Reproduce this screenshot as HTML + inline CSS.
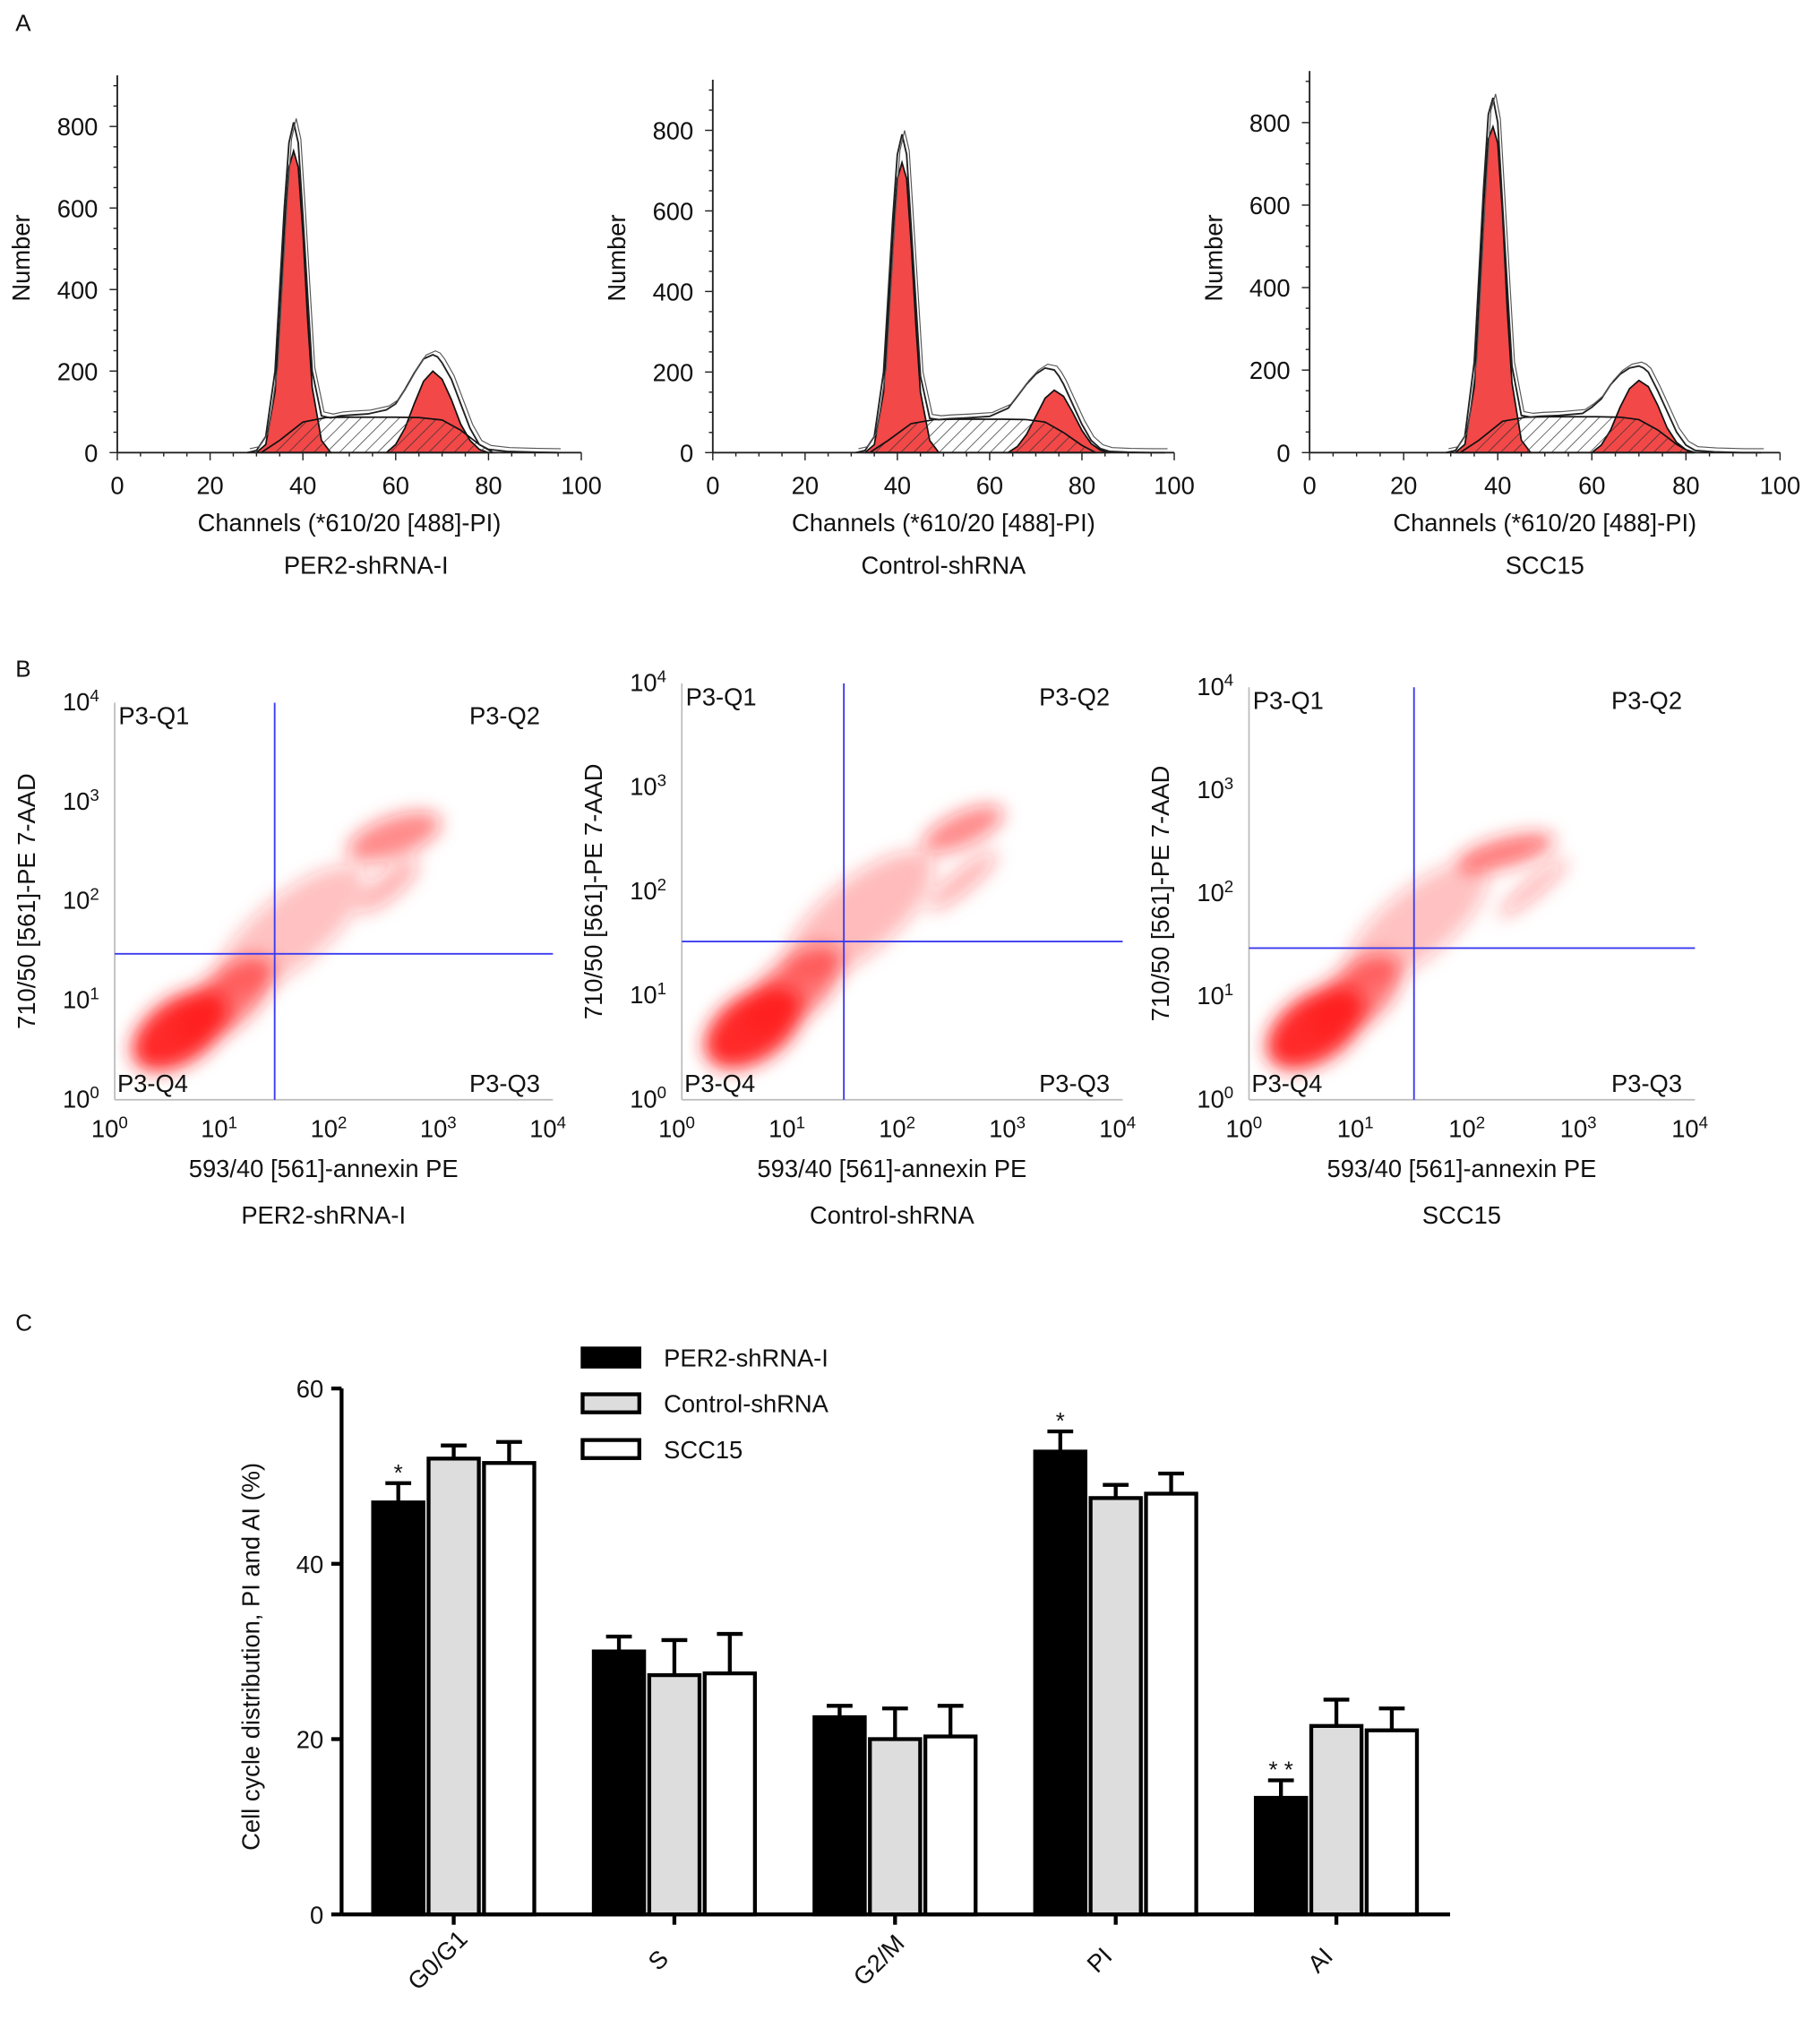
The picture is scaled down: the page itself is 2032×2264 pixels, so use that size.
<!DOCTYPE html>
<html><head><meta charset="utf-8"><style>
html,body{margin:0;padding:0;background:#fff}
svg{display:block;font-family:"Liberation Sans",Arial,sans-serif}
</style></head><body>
<svg id="fig" width="2032" height="2264" viewBox="0 0 1412 1573" xmlns="http://www.w3.org/2000/svg">
<defs>
<pattern id="hatch" patternUnits="userSpaceOnUse" width="7" height="7" patternTransform="rotate(45)">
<line x1="0" y1="0" x2="0" y2="7" stroke="#333" stroke-width="1"/>
</pattern>
<filter id="blur" x="-50%" y="-50%" width="200%" height="200%"><feGaussianBlur stdDeviation="7"/></filter>
</defs>
<g id="root"></g>
</svg>
<script>
// ---------- Panel A data ----------
const histNames = ["PER2-shRNA-I","Control-shRNA","SCC15"];
const g1Ch = [[30,32,34,35,36,37,38,39,40,41,42,44,46],[33,35,37,38,39,40,41,42,43,44,45,47,49],[31,33,35,36,37,38,39,40,41,42,43,45,47]];
const g1Val = [[0,20,150,330,550,700,740,700,540,330,160,30,0],[0,20,150,330,540,680,720,680,520,320,150,30,0],[0,20,160,360,600,760,790,750,580,350,170,30,0]];
const sCh = [[31,35,40,45,50,55,60,65,70,74,78,81],[34,38,43,48,53,58,63,68,72,76,80,83],[32,36,41,46,51,56,61,66,70,74,78,81]];
const sVal = [[0,30,75,86,87,87,87,86,80,55,20,0],[0,30,72,82,83,83,83,82,76,50,18,0],[0,30,76,86,87,87,87,86,80,55,20,0]];
const g2Ch = [[58,60,62,64,66,68,70,72,74,76,78,80],[64,66,68,70,72,74,76,78,80,82,84,86],[60,62,64,66,68,70,72,74,76,78,80,82]];
const g2Val = [[0,20,60,120,175,200,180,130,70,30,8,0],[0,15,45,90,135,155,140,100,55,22,6,0],[0,18,55,110,155,175,160,115,60,25,7,0]];
const totCh = [[28,30,32,34,36,37,38,39,40,42,44,46,48,50,54,58,60,62,64,66,68,69,70,72,74,76,78,80,84,90,95],
 [31,33,35,37,39,40,41,42,43,45,47,49,51,55,60,64,66,68,70,72,74,75,76,78,80,82,84,86,90,95,98],
 [29,31,33,35,37,38,39,40,41,43,45,47,49,53,58,60,62,64,66,68,70,71,72,74,76,78,80,82,86,92,96]];
const totVal = [[0,5,40,200,600,760,810,760,580,200,90,85,90,92,95,105,120,155,195,230,240,235,220,180,120,60,20,8,3,1,0],
 [0,5,40,200,580,740,790,740,560,190,85,82,84,86,90,110,140,170,195,210,205,190,170,120,70,30,10,3,1,0,0],
 [0,5,40,220,640,820,860,800,600,210,90,86,88,90,95,110,130,165,190,205,210,205,195,150,100,50,18,5,2,0,0]];
const histX0 = [91,553,1016], histX1 = [451,911,1381], histY800 = [98,101,95], histYBase = 351;
const xTicksA = [0,20,40,60,80,100], yTicksA = [0,200,400,600,800];

// ---------- Panel B data ----------
const scatNames = ["PER2-shRNA-I","Control-shRNA","SCC15"];
const scatX0 = [89,529,969], scatX1 = [429,871,1315], scatY0 = [853,853,853], scatY1 = [545,530,533];
const gateX = [1.46,1.47,1.48], gateY = [1.47,1.52,1.47];
const clCx = [[0.6,1.0,1.6,2.55,2.5],[0.65,1.0,1.6,2.55,2.55],[0.6,0.95,1.5,2.3,2.55]];
const clCy = [[0.7,1.0,1.7,2.65,2.15],[0.7,1.05,1.75,2.6,2.1],[0.7,1.0,1.7,2.4,2.05]];
const clRx = [[0.5,0.55,0.85,0.45,0.35],[0.5,0.55,0.85,0.4,0.4],[0.5,0.5,0.8,0.45,0.4]];
const clRy = [[0.32,0.28,0.35,0.2,0.12],[0.32,0.28,0.35,0.16,0.1],[0.32,0.28,0.33,0.14,0.08]];
const clAng = [[35,40,40,20,40],[35,40,40,25,40],[35,40,40,15,40]];
const clOp = [[0.95,0.6,0.28,0.5,0.35],[0.95,0.6,0.3,0.5,0.35],[0.95,0.6,0.28,0.6,0.35]];

// ---------- Panel C data ----------
const cats = ["G0/G1","S","G2/M","PI","AI"];
const seriesNames = ["PER2-shRNA-I","Control-shRNA","SCC15"];
const perVals = [47,30,22.5,52.8,13.3];
const ctlVals = [52,27.3,20,47.5,21.5];
const sccVals = [51.5,27.5,20.3,48,21];
const perErr = [2.2,1.7,1.3,2.3,2];
const ctlErr = [1.5,4,3.5,1.5,3];
const sccErr = [2.4,4.5,3.5,2.3,2.5];
const yTicksC = [0,20,40,60];
const stars = ["*","","","*","* *"];

const NS="http://www.w3.org/2000/svg";
const root=document.getElementById('root');
function mk(tag,attrs,parent,name,inter){const e=document.createElementNS(NS,tag);for(const k in attrs)e.setAttribute(k,attrs[k]);(parent||root).appendChild(e);


return e;}
function txt(s,x,y,size,anchor,parent,name,extra){const t=mk('text',Object.assign({x:x,y:y,'font-size':size,'text-anchor':anchor||'start',fill:'#111'},extra||{}),parent,name);t.textContent=s;return t;}
const FS=19;

txt("A",12,24,18,'start',root,'panel-label-a');
txt("B",12,525,18,'start',root,'panel-label-b');
txt("C",12,1032,18,'start',root,'panel-label-c');

// ---------- Panel A ----------
for(let p=0;p<3;p++){
  const g=mk('g',{},root,'histogram-'+(p+1));
  const X=c=>histX0[p]+(histX1[p]-histX0[p])*c/100;
  const Y=v=>histYBase-(histYBase-histY800[p])*v/800;
  const path=(ch,val)=>'M'+ch.map((c,i)=>X(c).toFixed(1)+','+Y(val[i]).toFixed(1)).join('L');
  mk('path',{d:path(g1Ch[p],g1Val[p])+'Z',fill:'#f24848',stroke:'#111','stroke-width':1.2},g,'g1-peak');
  mk('path',{d:path(g2Ch[p],g2Val[p])+'Z',fill:'#f24848',stroke:'#111','stroke-width':1.2},g,'g2m-peak');
  mk('path',{d:path(sCh[p],sVal[p])+'Z',fill:'url(#hatch)',stroke:'#111','stroke-width':1.2},g,'s-phase-area');
  mk('path',{d:path(totCh[p],totVal[p]),fill:'none',stroke:'#222','stroke-width':1.3},g,'total-fit-line');
  mk('path',{d:path(totCh[p],totVal[p]),fill:'none',stroke:'#555','stroke-width':0.8,transform:'translate(2,-3)'},g,'raw-data-line');
  const top=Y(900)-8;
  mk('line',{x1:histX0[p],y1:histYBase,x2:histX1[p],y2:histYBase,stroke:'#222','stroke-width':1.3},g,'x-axis');
  mk('line',{x1:histX0[p],y1:histYBase,x2:histX0[p],y2:top,stroke:'#222','stroke-width':1.3},g,'y-axis');
  for(let v=0;v<=950;v+=50){const y=Y(v);if(y<top)break;const maj=v%200==0;mk('line',{x1:histX0[p]-(maj?6:3),y1:y,x2:histX0[p],y2:y,stroke:'#222'},g,'y-tick');}
  for(let c=0;c<=100;c+=5){const maj=c%20==0;mk('line',{x1:X(c),y1:histYBase,x2:X(c),y2:histYBase+(maj?6:3),stroke:'#222'},g,'x-tick');}
  yTicksA.forEach(v=>txt(String(v),histX0[p]-15,Y(v)+7,FS,'end',g,'y-tick-label'));
  xTicksA.forEach(c=>txt(String(c),X(c),383,FS,'middle',g,'x-tick-label'));
  const cx=(histX0[p]+histX1[p])/2;
  txt("Channels (*610/20 [488]-PI)",cx,412,FS,'middle',g,'x-axis-title');
  txt(histNames[p],cx-(p==0?-13:0),445,FS,'middle',g,'sample-name');
  txt("Number",histX0[p]-68,200,FS,'middle',g,'y-axis-title',{transform:`rotate(-90 ${histX0[p]-68} 200)`});
}

// ---------- Panel B ----------
for(let p=0;p<3;p++){
  const g=mk('g',{},root,'scatter-plot-'+(p+1));
  const X=l=>scatX0[p]+(scatX1[p]-scatX0[p])*l/4;
  const Y=l=>scatY0[p]-(scatY0[p]-scatY1[p])*l/4;
  const cg=mk('g',{filter:'url(#blur)'},g,'event-clusters');
  for(let k=0;k<clCx[p].length;k++){
    const x=X(clCx[p][k]),y=Y(clCy[p][k]);
    mk('ellipse',{cx:x,cy:y,rx:(scatX1[p]-scatX0[p])/4*clRx[p][k],ry:(scatY0[p]-scatY1[p])/4*clRy[p][k],fill:'#ff1a1a','fill-opacity':clOp[p][k],transform:`rotate(${-clAng[p][k]} ${x} ${y})`},cg,'event-cluster');
  }
  mk('line',{x1:scatX0[p],y1:scatY0[p],x2:scatX1[p],y2:scatY0[p],stroke:'#bbb','stroke-width':1.2},g,'x-axis');
  mk('line',{x1:scatX0[p],y1:scatY0[p],x2:scatX0[p],y2:scatY1[p],stroke:'#bbb','stroke-width':1.2},g,'y-axis');
  mk('line',{x1:X(gateX[p]),y1:scatY1[p],x2:X(gateX[p]),y2:scatY0[p],stroke:'#3b3bf0','stroke-width':1.3},g,'gate-vertical');
  mk('line',{x1:scatX0[p],y1:Y(gateY[p]),x2:scatX1[p],y2:Y(gateY[p]),stroke:'#3b3bf0','stroke-width':1.3},g,'gate-horizontal');
  for(let d=0;d<=4;d++){
    const t=txt("10",X(d)-4,scatY0[p]+29,FS,'middle',g,'x-tick-label');const s=document.createElementNS(NS,'tspan');s.setAttribute('dy','-7');s.setAttribute('font-size','13');s.textContent=String(d);t.appendChild(s);
    const t2=txt("10",scatX0[p]-12,Y(d)+6,FS,'end',g,'y-tick-label');const s2=document.createElementNS(NS,'tspan');s2.setAttribute('dy','-7');s2.setAttribute('font-size','13');s2.textContent=String(d);t2.appendChild(s2);
  }
  txt("P3-Q1",scatX0[p]+3,Y(3.85)+5,FS,'start',g,'quadrant-label-q1');
  txt("P3-Q2",scatX1[p]-10,Y(3.85)+5,FS,'end',g,'quadrant-label-q2');
  txt("P3-Q4",scatX0[p]+2,scatY0[p]-6,FS,'start',g,'quadrant-label-q4');
  txt("P3-Q3",scatX1[p]-10,scatY0[p]-6,FS,'end',g,'quadrant-label-q3');
  const cx=(scatX0[p]+scatX1[p])/2-8;
  txt("593/40 [561]-annexin PE",cx,scatY0[p]+60,FS,'middle',g,'x-axis-title');
  txt(scatNames[p],cx,scatY0[p]+96,FS,'middle',g,'sample-name');
  const yx=scatX0[p]-62,yy=(scatY0[p]+scatY1[p])/2;
  txt("710/50 [561]-PE 7-AAD",yx,yy,FS,'middle',g,'y-axis-title',{transform:`rotate(-90 ${yx} ${yy})`});
}

// ---------- Panel C ----------
{
  const g=mk('g',{},root,'bar-chart');
  const ax0=265, ax1=1125, base=1485, top60=1077;
  const Y=v=>base-(base-top60)*v/60;
  const groupX=i=>352+i*171.2;
  const fills=['#000','#ddd','#fff'];
  const data=[perVals,ctlVals,sccVals], errs=[perErr,ctlErr,sccErr];
  const bw=42;
  cats.forEach((c,i)=>{
    for(let s=0;s<3;s++){
      const x=groupX(i)+(s-1)*(bw+1)-bw/2, v=data[s][i], e=errs[s][i];
      const cxm=x+bw/2;
      mk('line',{x1:cxm,y1:Y(v),x2:cxm,y2:Y(v+e),stroke:'#000','stroke-width':3},g,'error-bar');
      mk('line',{x1:cxm-10,y1:Y(v+e),x2:cxm+10,y2:Y(v+e),stroke:'#000','stroke-width':3},g,'error-cap');
      mk('rect',{x:x+1.5,y:Y(v),width:bw-3,height:base-Y(v),fill:fills[s],stroke:'#000','stroke-width':3},g,'bar-'+c.toLowerCase().replace('/','-')+'-'+(s+1));
    }
    if(stars[i]){const v=perVals[i]+perErr[i];txt(stars[i],groupX(i)-43,Y(v)-2,18,'middle',g,'significance-star');}
    const lx=groupX(i)-8, ly=base+40;
    txt(c,lx,ly,FS,'middle',g,'x-tick-label',{transform:`rotate(-45 ${lx} ${ly})`});
  });
  mk('line',{x1:ax0,y1:base,x2:ax1,y2:base,stroke:'#000','stroke-width':3},g,'x-axis');
  mk('line',{x1:ax0,y1:base,x2:ax0,y2:top60,stroke:'#000','stroke-width':3},g,'y-axis');
  yTicksC.forEach(v=>{mk('line',{x1:ax0-8,y1:Y(v),x2:ax0,y2:Y(v),stroke:'#000','stroke-width':3},g,'y-tick');txt(String(v),ax0-14,Y(v)+7,FS,'end',g,'y-tick-label');});
  cats.forEach((c,i)=>mk('line',{x1:groupX(i),y1:base,x2:groupX(i),y2:base+8,stroke:'#000','stroke-width':3},g,'x-tick'));
  txt("Cell cycle distribution, PI and AI (%)",201,1285,FS,'middle',g,'y-axis-title',{transform:'rotate(-90 201 1285)'});
  const lg=mk('g',{},g,'legend');
  seriesNames.forEach((n,s)=>{const y=1053+s*35.5;
    mk('rect',{x:452,y:y-7,width:44,height:14,fill:fills[s],stroke:'#000','stroke-width':3},lg,'legend-swatch');
    txt(n,515,y+7,FS,'start',lg,'legend-entry');});
}
</script>
</body></html>
